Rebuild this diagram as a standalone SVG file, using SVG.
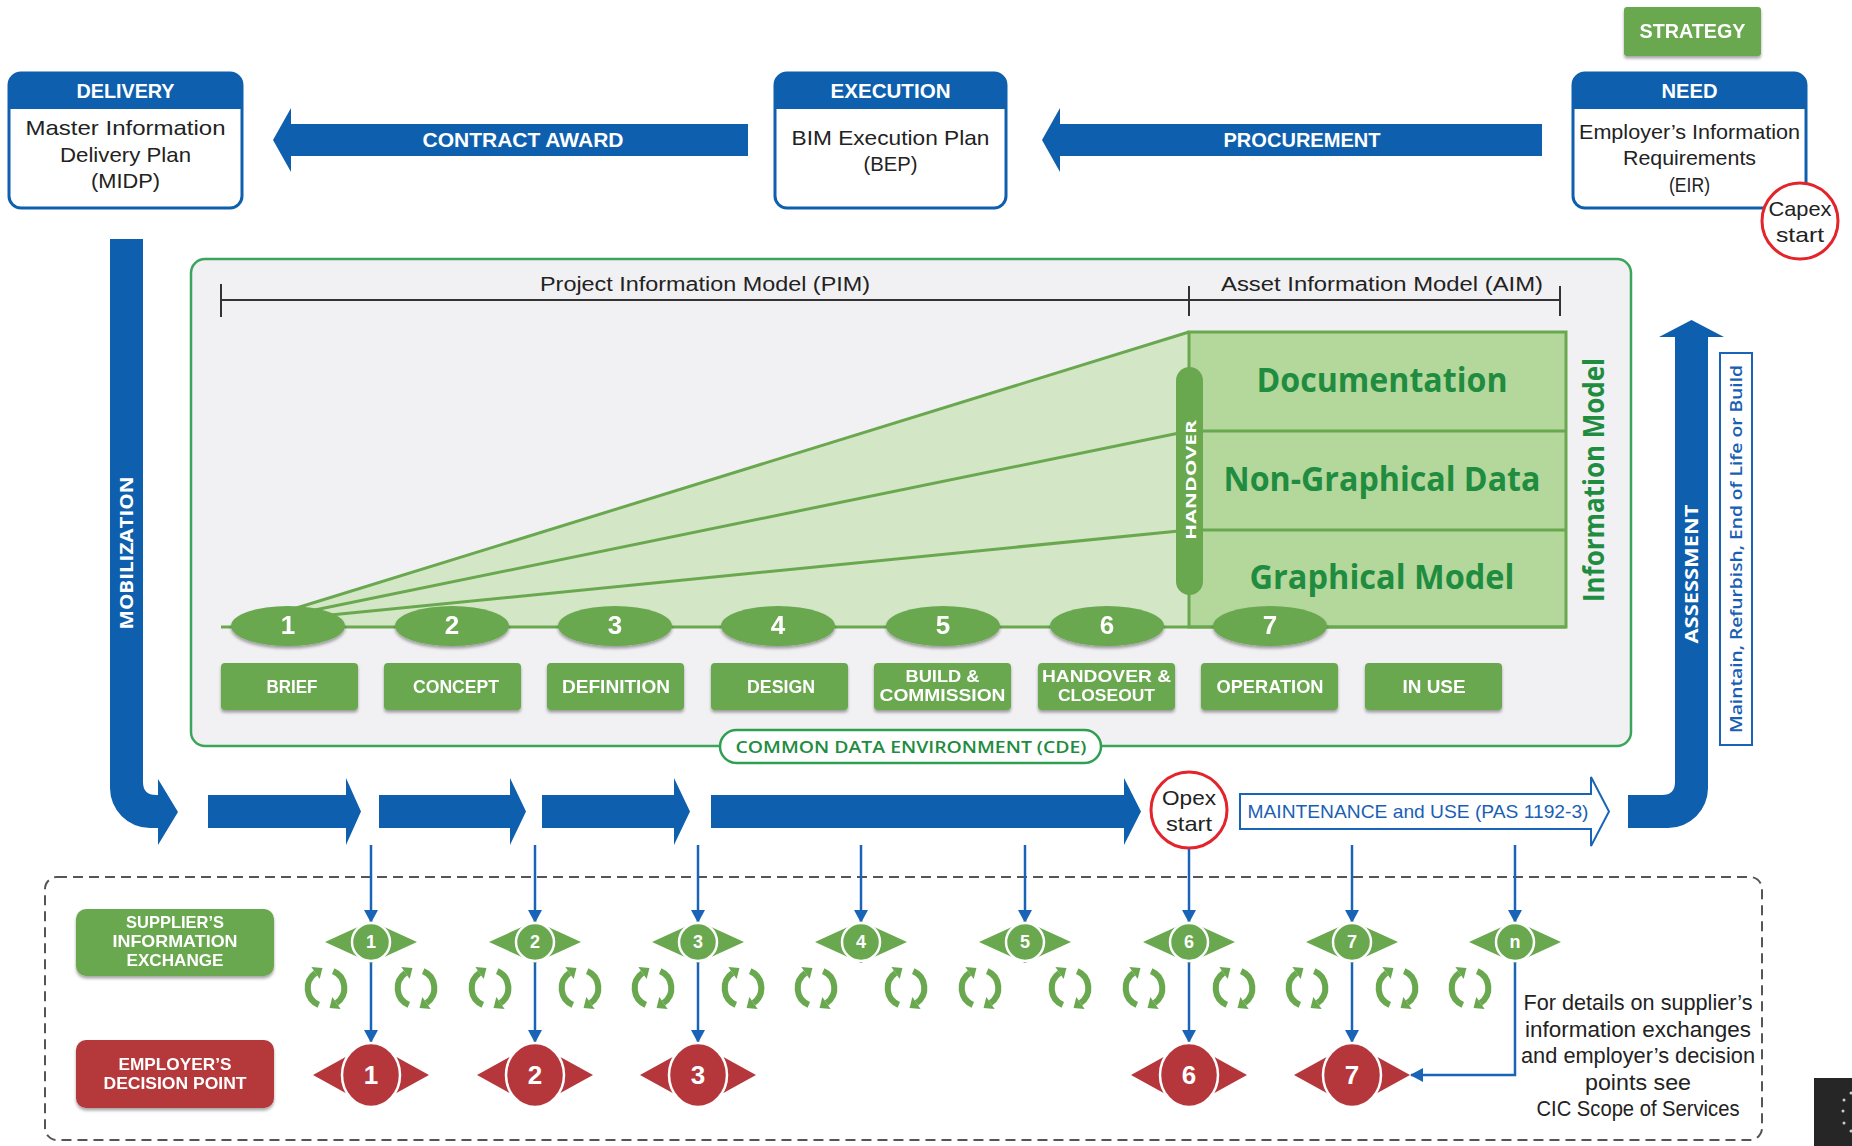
<svg xmlns="http://www.w3.org/2000/svg" xmlns:xlink="http://www.w3.org/1999/xlink" width="1852" height="1146" viewBox="0 0 1852 1146">
<style>
.m{font-family:"Liberation Sans",Arial,sans-serif;}
.o{font-family:"Open Sans","DejaVu Sans",sans-serif;}
.b{font-weight:bold;}
.w{fill:#ffffff;}
.k{fill:#222222;}
.c{text-anchor:middle;}
.blue{fill:#0e5fae;}
.gr{fill:#6aa84f;}
.tg{fill:#1f8c3f;}
.box{fill:#ffffff;stroke:#0e5fae;stroke-width:3;}
.stage{fill:#6aa84f;}
.conn{fill:none;stroke:#1a64b8;stroke-width:2.5;}
</style>
<defs>
<filter id="sh" x="-10%" y="-10%" width="120%" height="150%">
<feDropShadow dx="0" dy="2.5" stdDeviation="1.5" flood-color="#000" flood-opacity="0.35"/>
</filter>
<marker id="ah" markerUnits="userSpaceOnUse" markerWidth="14" markerHeight="14" refX="12" refY="7" orient="auto">
<path d="M0,0 L13,7 L0,14 z" fill="#1a64b8"/>
</marker>
<g id="rc">
<g transform="scale(1.22)">
<path d="M-5.9,13.8 A15,15 0 0 1 -8.6,-12.3" fill="none" stroke="#6aa84f" stroke-width="5"/>
<polygon points="-2.9,-16.3 -5.2,-7.4 -12,-17.2" fill="#6aa84f"/>
<path d="M5.9,-13.8 A15,15 0 0 1 8.6,12.3" fill="none" stroke="#6aa84f" stroke-width="5"/>
<polygon points="2.9,16.3 12,17.2 5.2,7.4" fill="#6aa84f"/>
</g>
</g>
</defs>

<rect x="0" y="0" width="1852" height="1146" fill="#ffffff"/>

<!-- dashed region -->
<rect id="region" x="45" y="877" width="1717" height="263" rx="12" fill="none" stroke="#555" stroke-width="2" stroke-dasharray="10 6"/>

<!-- main container -->
<g id="container">
<rect x="191" y="259" width="1440" height="487" rx="14" fill="#f1f1f3" stroke="#3ba55c" stroke-width="2.5"/>
<line x1="221" y1="300" x2="1560" y2="300" stroke="#333" stroke-width="2.2"/>
<line x1="221" y1="284" x2="221" y2="317" stroke="#333" stroke-width="2"/>
<line x1="1189" y1="286" x2="1189" y2="316" stroke="#333" stroke-width="2"/>
<line x1="1560" y1="286" x2="1560" y2="316" stroke="#333" stroke-width="2"/>
<text class="m k c" x="705" y="291" font-size="20" textLength="330" lengthAdjust="spacingAndGlyphs">Project Information Model (PIM)</text>
<text class="m k c" x="1382" y="291" font-size="20" textLength="322" lengthAdjust="spacingAndGlyphs">Asset Information Model (AIM)</text>
</g>

<g id="fan">
<polygon points="290,610 1189,332 1189,627 300,627" fill="#d3e7c6"/>
<line x1="290" y1="610" x2="1189" y2="332" stroke="#6aa84f" stroke-width="3"/>
<line x1="300" y1="613" x2="1189" y2="431" stroke="#6aa84f" stroke-width="3"/>
<line x1="310" y1="617" x2="1189" y2="530" stroke="#6aa84f" stroke-width="3"/>
</g>

<g id="aim">
<rect x="1189" y="332" width="377" height="295" fill="#b4d79c" stroke="#6aa84f" stroke-width="3"/>
<line x1="1189" y1="431" x2="1566" y2="431" stroke="#6aa84f" stroke-width="3"/>
<line x1="1189" y1="530" x2="1566" y2="530" stroke="#6aa84f" stroke-width="3"/>
<text class="o b tg c" x="1382" y="392" font-size="34" textLength="251" lengthAdjust="spacingAndGlyphs">Documentation</text>
<text class="o b tg c" x="1382" y="491" font-size="34" textLength="317" lengthAdjust="spacingAndGlyphs">Non-Graphical Data</text>
<text class="o b tg c" x="1382" y="589" font-size="34" textLength="265" lengthAdjust="spacingAndGlyphs">Graphical Model</text>
<text class="o b tg c" transform="translate(1604,480) rotate(-90)" font-size="28" textLength="244" lengthAdjust="spacingAndGlyphs">Information Model</text>
</g>

<g id="handover">
<rect x="1176" y="367" width="27" height="228" rx="13.5" fill="#6aa84f"/>
<text class="o b w c" transform="translate(1196,480) rotate(-90)" font-size="15" textLength="120" lengthAdjust="spacingAndGlyphs">HANDOVER</text>
</g>

<line id="timeline" x1="221" y1="627" x2="1566" y2="627" stroke="#6aa84f" stroke-width="3"/>

<g id="stages" filter="url(#sh)">
<g id="st1"><ellipse cx="288" cy="626" rx="57" ry="20" class="gr"/><text class="m b w c" x="288" y="634" font-size="26">1</text></g>
<g id="st2"><ellipse cx="452" cy="626" rx="57" ry="20" class="gr"/><text class="m b w c" x="452" y="634" font-size="26">2</text></g>
<g id="st3"><ellipse cx="615" cy="626" rx="57" ry="20" class="gr"/><text class="m b w c" x="615" y="634" font-size="26">3</text></g>
<g id="st4"><ellipse cx="778" cy="626" rx="57" ry="20" class="gr"/><text class="m b w c" x="778" y="634" font-size="26">4</text></g>
<g id="st5"><ellipse cx="943" cy="626" rx="57" ry="20" class="gr"/><text class="m b w c" x="943" y="634" font-size="26">5</text></g>
<g id="st6"><ellipse cx="1107" cy="626" rx="57" ry="20" class="gr"/><text class="m b w c" x="1107" y="634" font-size="26">6</text></g>
<g id="st7"><ellipse cx="1270" cy="626" rx="57" ry="20" class="gr"/><text class="m b w c" x="1270" y="634" font-size="26">7</text></g>
</g>

<g id="phases">
<g id="brief" filter="url(#sh)"><rect x="221" y="663" width="137" height="47" rx="4" class="stage"/><text class="m b w c" x="292" y="693" font-size="18" textLength="51" lengthAdjust="spacingAndGlyphs">BRIEF</text></g>
<g id="concept" filter="url(#sh)"><rect x="384" y="663" width="137" height="47" rx="4" class="stage"/><text class="m b w c" x="456" y="693" font-size="18" textLength="86" lengthAdjust="spacingAndGlyphs">CONCEPT</text></g>
<g id="definition" filter="url(#sh)"><rect x="547" y="663" width="137" height="47" rx="4" class="stage"/><text class="m b w c" x="616" y="693" font-size="18" textLength="108" lengthAdjust="spacingAndGlyphs">DEFINITION</text></g>
<g id="design" filter="url(#sh)"><rect x="711" y="663" width="137" height="47" rx="4" class="stage"/><text class="m b w c" x="781" y="693" font-size="18" textLength="68" lengthAdjust="spacingAndGlyphs">DESIGN</text></g>
<g id="build" filter="url(#sh)"><rect x="874" y="663" width="137" height="47" rx="4" class="stage"/><text class="m b w c" x="942.5" y="682" font-size="17" textLength="74" lengthAdjust="spacingAndGlyphs">BUILD &amp;</text><text class="m b w c" x="942.5" y="701" font-size="17" textLength="126" lengthAdjust="spacingAndGlyphs">COMMISSION</text></g>
<g id="handoverclose" filter="url(#sh)"><rect x="1038" y="663" width="137" height="47" rx="4" class="stage"/><text class="m b w c" x="1106.5" y="682" font-size="17" textLength="129" lengthAdjust="spacingAndGlyphs">HANDOVER &amp;</text><text class="m b w c" x="1106.5" y="701" font-size="17" textLength="97" lengthAdjust="spacingAndGlyphs">CLOSEOUT</text></g>
<g id="operation" filter="url(#sh)"><rect x="1201" y="663" width="137" height="47" rx="4" class="stage"/><text class="m b w c" x="1270" y="693" font-size="18" textLength="107" lengthAdjust="spacingAndGlyphs">OPERATION</text></g>
<g id="inuse" filter="url(#sh)"><rect x="1365" y="663" width="137" height="47" rx="4" class="stage"/><text class="m b w c" x="1434" y="693" font-size="18" textLength="63" lengthAdjust="spacingAndGlyphs">IN USE</text></g>
</g>

<g id="cde">
<rect x="720" y="730" width="381" height="33" rx="16.5" fill="#ffffff" stroke="#2fa052" stroke-width="2.5"/>
<text class="o tg c" x="911" y="753" font-size="17" font-weight="600" textLength="351" lengthAdjust="spacingAndGlyphs">COMMON DATA ENVIRONMENT (CDE)</text>
</g>

<!-- top boxes -->
<g id="delivery">
<rect x="9" y="73" width="233" height="135" rx="12" class="box"/>
<path d="M9,85 A12,12 0 0 1 21,73 H230 A12,12 0 0 1 242,85 V109 H9 Z" class="blue"/>
<text class="m b w c" x="125.5" y="98" font-size="20" textLength="98" lengthAdjust="spacingAndGlyphs">DELIVERY</text>
<text class="m k c" x="125.5" y="135" font-size="21" textLength="200" lengthAdjust="spacingAndGlyphs">Master Information</text>
<text class="m k c" x="125.5" y="162" font-size="21" textLength="131" lengthAdjust="spacingAndGlyphs">Delivery Plan</text>
<text class="m k c" x="125.5" y="188" font-size="21" textLength="69" lengthAdjust="spacingAndGlyphs">(MIDP)</text>
</g>
<g id="execution">
<rect x="775" y="73" width="231" height="135" rx="12" class="box"/>
<path d="M775,85 A12,12 0 0 1 787,73 H994 A12,12 0 0 1 1006,85 V109 H775 Z" class="blue"/>
<text class="m b w c" x="890.5" y="98" font-size="20" textLength="120" lengthAdjust="spacingAndGlyphs">EXECUTION</text>
<text class="m k c" x="890.5" y="145" font-size="21" textLength="198" lengthAdjust="spacingAndGlyphs">BIM Execution Plan</text>
<text class="m k c" x="890.5" y="171" font-size="21" textLength="54" lengthAdjust="spacingAndGlyphs">(BEP)</text>
</g>
<g id="need">
<rect x="1573" y="73" width="233" height="135" rx="12" class="box"/>
<path d="M1573,85 A12,12 0 0 1 1585,73 H1794 A12,12 0 0 1 1806,85 V109 H1573 Z" class="blue"/>
<text class="m b w c" x="1689.5" y="98" font-size="20" textLength="56" lengthAdjust="spacingAndGlyphs">NEED</text>
<text class="m k c" x="1689.5" y="139" font-size="21" textLength="221" lengthAdjust="spacingAndGlyphs">Employer’s Information</text>
<text class="m k c" x="1689.5" y="165" font-size="21" textLength="133" lengthAdjust="spacingAndGlyphs">Requirements</text>
<text class="m k c" x="1689.5" y="192" font-size="21" textLength="41" lengthAdjust="spacingAndGlyphs">(EIR)</text>
</g>
<g id="capex">
<circle cx="1800" cy="221" r="38" fill="#ffffff" stroke="#e3242b" stroke-width="3"/>
<text class="m k c" x="1800" y="216" font-size="21" textLength="63" lengthAdjust="spacingAndGlyphs">Capex</text>
<text class="m k c" x="1800" y="242" font-size="21" textLength="48" lengthAdjust="spacingAndGlyphs">start</text>
</g>
<g id="strategy" filter="url(#sh)">
<rect x="1624" y="7" width="137" height="49" rx="3" fill="#6aa84f"/>
<text class="m b w c" x="1692.5" y="38" font-size="20" textLength="106" lengthAdjust="spacingAndGlyphs">STRATEGY</text>
</g>

<!-- big arrows -->
<g id="procurement">
<polygon points="1542,124 1060,124 1060,108 1042,140 1060,172 1060,156 1542,156" class="blue"/>
<text class="m b w c" x="1302" y="147" font-size="20" textLength="157" lengthAdjust="spacingAndGlyphs">PROCUREMENT</text>
</g>
<g id="contract">
<polygon points="748,124 291,124 291,108 273,140 291,172 291,156 748,156" class="blue"/>
<text class="m b w c" x="523" y="147" font-size="20" textLength="201" lengthAdjust="spacingAndGlyphs">CONTRACT AWARD</text>
</g>
<g id="mobilization">
<path d="M110,239 H143 V782 Q143,795 156,795 H158 V779 L178,812 L158,845 V828 H150 A40,40 0 0 1 110,788 Z" class="blue"/>
<text class="o b w c" transform="translate(133,553) rotate(-90)" font-size="17" textLength="153" lengthAdjust="spacingAndGlyphs">MOBILIZATION</text>
</g>
<g id="flow">
<polygon points="208,795 346,795 346,778 361,811.5 346,845 346,828 208,828" class="blue"/>
<polygon points="379,795 510,795 510,778 526,811.5 510,845 510,828 379,828" class="blue"/>
<polygon points="542,795 674,795 674,778 690,811.5 674,845 674,828 542,828" class="blue"/>
<polygon points="711,795 1124,795 1124,778 1141,811.5 1124,845 1124,828 711,828" class="blue"/>
</g>
<g id="opex">
<circle cx="1189" cy="810" r="38" fill="#ffffff" stroke="#e3242b" stroke-width="3"/>
<text class="m k c" x="1189" y="805" font-size="21" textLength="54" lengthAdjust="spacingAndGlyphs">Opex</text>
<text class="m k c" x="1189" y="831" font-size="21" textLength="46" lengthAdjust="spacingAndGlyphs">start</text>
</g>
<g id="maintenance">
<polygon points="1240,794 1591,794 1591,777 1609,811.5 1591,846 1591,829 1240,829" fill="#ffffff" stroke="#1a64b8" stroke-width="2"/>
<text class="m c" x="1418" y="818" font-size="19" fill="#1a5fb4" textLength="341" lengthAdjust="spacingAndGlyphs">MAINTENANCE and USE (PAS 1192-3)</text>
</g>
<g id="assessment">
<path d="M1628,795 H1662 Q1675,795 1675,782 V337 H1659 L1691.5,320 L1724,337 H1708 V788 A40,40 0 0 1 1668,828 H1628 Z" class="blue"/>
<text class="o b w c" transform="translate(1698,574) rotate(-90)" font-size="17" textLength="139" lengthAdjust="spacingAndGlyphs">ASSESSMENT</text>
</g>
<g id="maintain">
<rect x="1720" y="353" width="32" height="392" fill="#ffffff" stroke="#1a64b8" stroke-width="2"/>
<text class="o c" transform="translate(1742,549) rotate(-90)" font-size="16" font-weight="600" fill="#1a5fb4" textLength="368" lengthAdjust="spacingAndGlyphs">Maintain, Refurbish, End of Life or Build</text>
</g>

<!-- connectors -->
<g id="connectors" class="conn">
<line x1="371" y1="845" x2="371" y2="922" marker-end="url(#ah)"/>
<line x1="535" y1="845" x2="535" y2="922" marker-end="url(#ah)"/>
<line x1="698" y1="845" x2="698" y2="922" marker-end="url(#ah)"/>
<line x1="861" y1="845" x2="861" y2="922" marker-end="url(#ah)"/>
<line x1="1025" y1="845" x2="1025" y2="922" marker-end="url(#ah)"/>
<line x1="1189" y1="849" x2="1189" y2="922" marker-end="url(#ah)"/>
<line x1="1352" y1="845" x2="1352" y2="922" marker-end="url(#ah)"/>
<line x1="1515" y1="845" x2="1515" y2="922" marker-end="url(#ah)"/>
<line x1="371" y1="961" x2="371" y2="1042" marker-end="url(#ah)"/>
<line x1="535" y1="961" x2="535" y2="1042" marker-end="url(#ah)"/>
<line x1="698" y1="961" x2="698" y2="1042" marker-end="url(#ah)"/>
<line x1="1189" y1="961" x2="1189" y2="1042" marker-end="url(#ah)"/>
<line x1="1352" y1="961" x2="1352" y2="1042" marker-end="url(#ah)"/>
<path d="M1515,961 V1075 H1411" marker-end="url(#ah)"/>
</g>

<!-- legend boxes -->
<g id="supplier" filter="url(#sh)">
<rect x="76" y="909" width="198" height="67" rx="10" fill="#6aa84f"/>
<text class="m b w c" x="175" y="928" font-size="17" textLength="98" lengthAdjust="spacingAndGlyphs">SUPPLIER’S</text>
<text class="m b w c" x="175" y="947" font-size="17" textLength="125" lengthAdjust="spacingAndGlyphs">INFORMATION</text>
<text class="m b w c" x="175" y="966" font-size="17" textLength="97" lengthAdjust="spacingAndGlyphs">EXCHANGE</text>
</g>
<g id="employer" filter="url(#sh)">
<rect x="76" y="1040" width="198" height="68" rx="10" fill="#b5373b"/>
<text class="m b w c" x="175" y="1070" font-size="17" textLength="113" lengthAdjust="spacingAndGlyphs">EMPLOYER’S</text>
<text class="m b w c" x="175" y="1089" font-size="17" textLength="143" lengthAdjust="spacingAndGlyphs">DECISION POINT</text>
</g>

<!-- green exchange diamonds -->
<g id="ex1"><polygon points="325,942 371,921 417,942 371,963" class="gr"/><circle cx="371" cy="942" r="19" class="gr" stroke="#fff" stroke-width="2.5"/><text class="m b w c" x="371" y="948" font-size="18">1</text></g>
<g id="ex2"><polygon points="489,942 535,921 581,942 535,963" class="gr"/><circle cx="535" cy="942" r="19" class="gr" stroke="#fff" stroke-width="2.5"/><text class="m b w c" x="535" y="948" font-size="18">2</text></g>
<g id="ex3"><polygon points="652,942 698,921 744,942 698,963" class="gr"/><circle cx="698" cy="942" r="19" class="gr" stroke="#fff" stroke-width="2.5"/><text class="m b w c" x="698" y="948" font-size="18">3</text></g>
<g id="ex4"><polygon points="815,942 861,921 907,942 861,963" class="gr"/><circle cx="861" cy="942" r="19" class="gr" stroke="#fff" stroke-width="2.5"/><text class="m b w c" x="861" y="948" font-size="18">4</text></g>
<g id="ex5"><polygon points="979,942 1025,921 1071,942 1025,963" class="gr"/><circle cx="1025" cy="942" r="19" class="gr" stroke="#fff" stroke-width="2.5"/><text class="m b w c" x="1025" y="948" font-size="18">5</text></g>
<g id="ex6"><polygon points="1143,942 1189,921 1235,942 1189,963" class="gr"/><circle cx="1189" cy="942" r="19" class="gr" stroke="#fff" stroke-width="2.5"/><text class="m b w c" x="1189" y="948" font-size="18">6</text></g>
<g id="ex7"><polygon points="1306,942 1352,921 1398,942 1352,963" class="gr"/><circle cx="1352" cy="942" r="19" class="gr" stroke="#fff" stroke-width="2.5"/><text class="m b w c" x="1352" y="948" font-size="18">7</text></g>
<g id="exn"><polygon points="1469,942 1515,921 1561,942 1515,963" class="gr"/><circle cx="1515" cy="942" r="19" class="gr" stroke="#fff" stroke-width="2.5"/><text class="m b w c" x="1515" y="948" font-size="18">n</text></g>

<!-- cycle icons -->
<g id="cycles">
<use xlink:href="#rc" href="#rc" x="326" y="988"/>
<use xlink:href="#rc" href="#rc" x="416" y="988"/>
<use xlink:href="#rc" href="#rc" x="490" y="988"/>
<use xlink:href="#rc" href="#rc" x="580" y="988"/>
<use xlink:href="#rc" href="#rc" x="653" y="988"/>
<use xlink:href="#rc" href="#rc" x="743" y="988"/>
<use xlink:href="#rc" href="#rc" x="816" y="988"/>
<use xlink:href="#rc" href="#rc" x="906" y="988"/>
<use xlink:href="#rc" href="#rc" x="980" y="988"/>
<use xlink:href="#rc" href="#rc" x="1070" y="988"/>
<use xlink:href="#rc" href="#rc" x="1144" y="988"/>
<use xlink:href="#rc" href="#rc" x="1234" y="988"/>
<use xlink:href="#rc" href="#rc" x="1307" y="988"/>
<use xlink:href="#rc" href="#rc" x="1397" y="988"/>
<use xlink:href="#rc" href="#rc" x="1470" y="988"/>
</g>

<!-- red decision diamonds -->
<g id="dp1"><polygon points="313,1075 371,1043 429,1075 371,1107" fill="#b5373b"/><ellipse cx="371" cy="1075" rx="29" ry="32" fill="#b5373b" stroke="#fff" stroke-width="2.5"/><text class="m b w c" x="371" y="1084" font-size="26">1</text></g>
<g id="dp2"><polygon points="477,1075 535,1043 593,1075 535,1107" fill="#b5373b"/><ellipse cx="535" cy="1075" rx="29" ry="32" fill="#b5373b" stroke="#fff" stroke-width="2.5"/><text class="m b w c" x="535" y="1084" font-size="26">2</text></g>
<g id="dp3"><polygon points="640,1075 698,1043 756,1075 698,1107" fill="#b5373b"/><ellipse cx="698" cy="1075" rx="29" ry="32" fill="#b5373b" stroke="#fff" stroke-width="2.5"/><text class="m b w c" x="698" y="1084" font-size="26">3</text></g>
<g id="dp6"><polygon points="1131,1075 1189,1043 1247,1075 1189,1107" fill="#b5373b"/><ellipse cx="1189" cy="1075" rx="29" ry="32" fill="#b5373b" stroke="#fff" stroke-width="2.5"/><text class="m b w c" x="1189" y="1084" font-size="26">6</text></g>
<g id="dp7"><polygon points="1294,1075 1352,1043 1410,1075 1352,1107" fill="#b5373b"/><ellipse cx="1352" cy="1075" rx="29" ry="32" fill="#b5373b" stroke="#fff" stroke-width="2.5"/><text class="m b w c" x="1352" y="1084" font-size="26">7</text></g>

<g id="note">
<text class="m k c" x="1638" y="1010" font-size="22" textLength="229" lengthAdjust="spacingAndGlyphs">For details on supplier’s</text>
<text class="m k c" x="1638" y="1037" font-size="22" textLength="226" lengthAdjust="spacingAndGlyphs">information exchanges</text>
<text class="m k c" x="1638" y="1063" font-size="22" textLength="234" lengthAdjust="spacingAndGlyphs">and employer’s decision</text>
<text class="m k c" x="1638" y="1090" font-size="22" textLength="106" lengthAdjust="spacingAndGlyphs">points see</text>
<text class="m k c" x="1638" y="1116" font-size="22" textLength="203" lengthAdjust="spacingAndGlyphs">CIC Scope of Services</text>
</g>

<g id="corner">
<rect x="1814" y="1078" width="38" height="68" fill="#262626"/>
<circle cx="1851" cy="1093" r="1.5" fill="#ccc"/>
<circle cx="1844" cy="1100" r="1.5" fill="#ccc"/>
<circle cx="1843" cy="1111" r="1.5" fill="#ccc"/>
<circle cx="1844" cy="1123" r="1.5" fill="#ccc"/>
<circle cx="1851" cy="1131" r="1.5" fill="#ccc"/>
</g>
</svg>
